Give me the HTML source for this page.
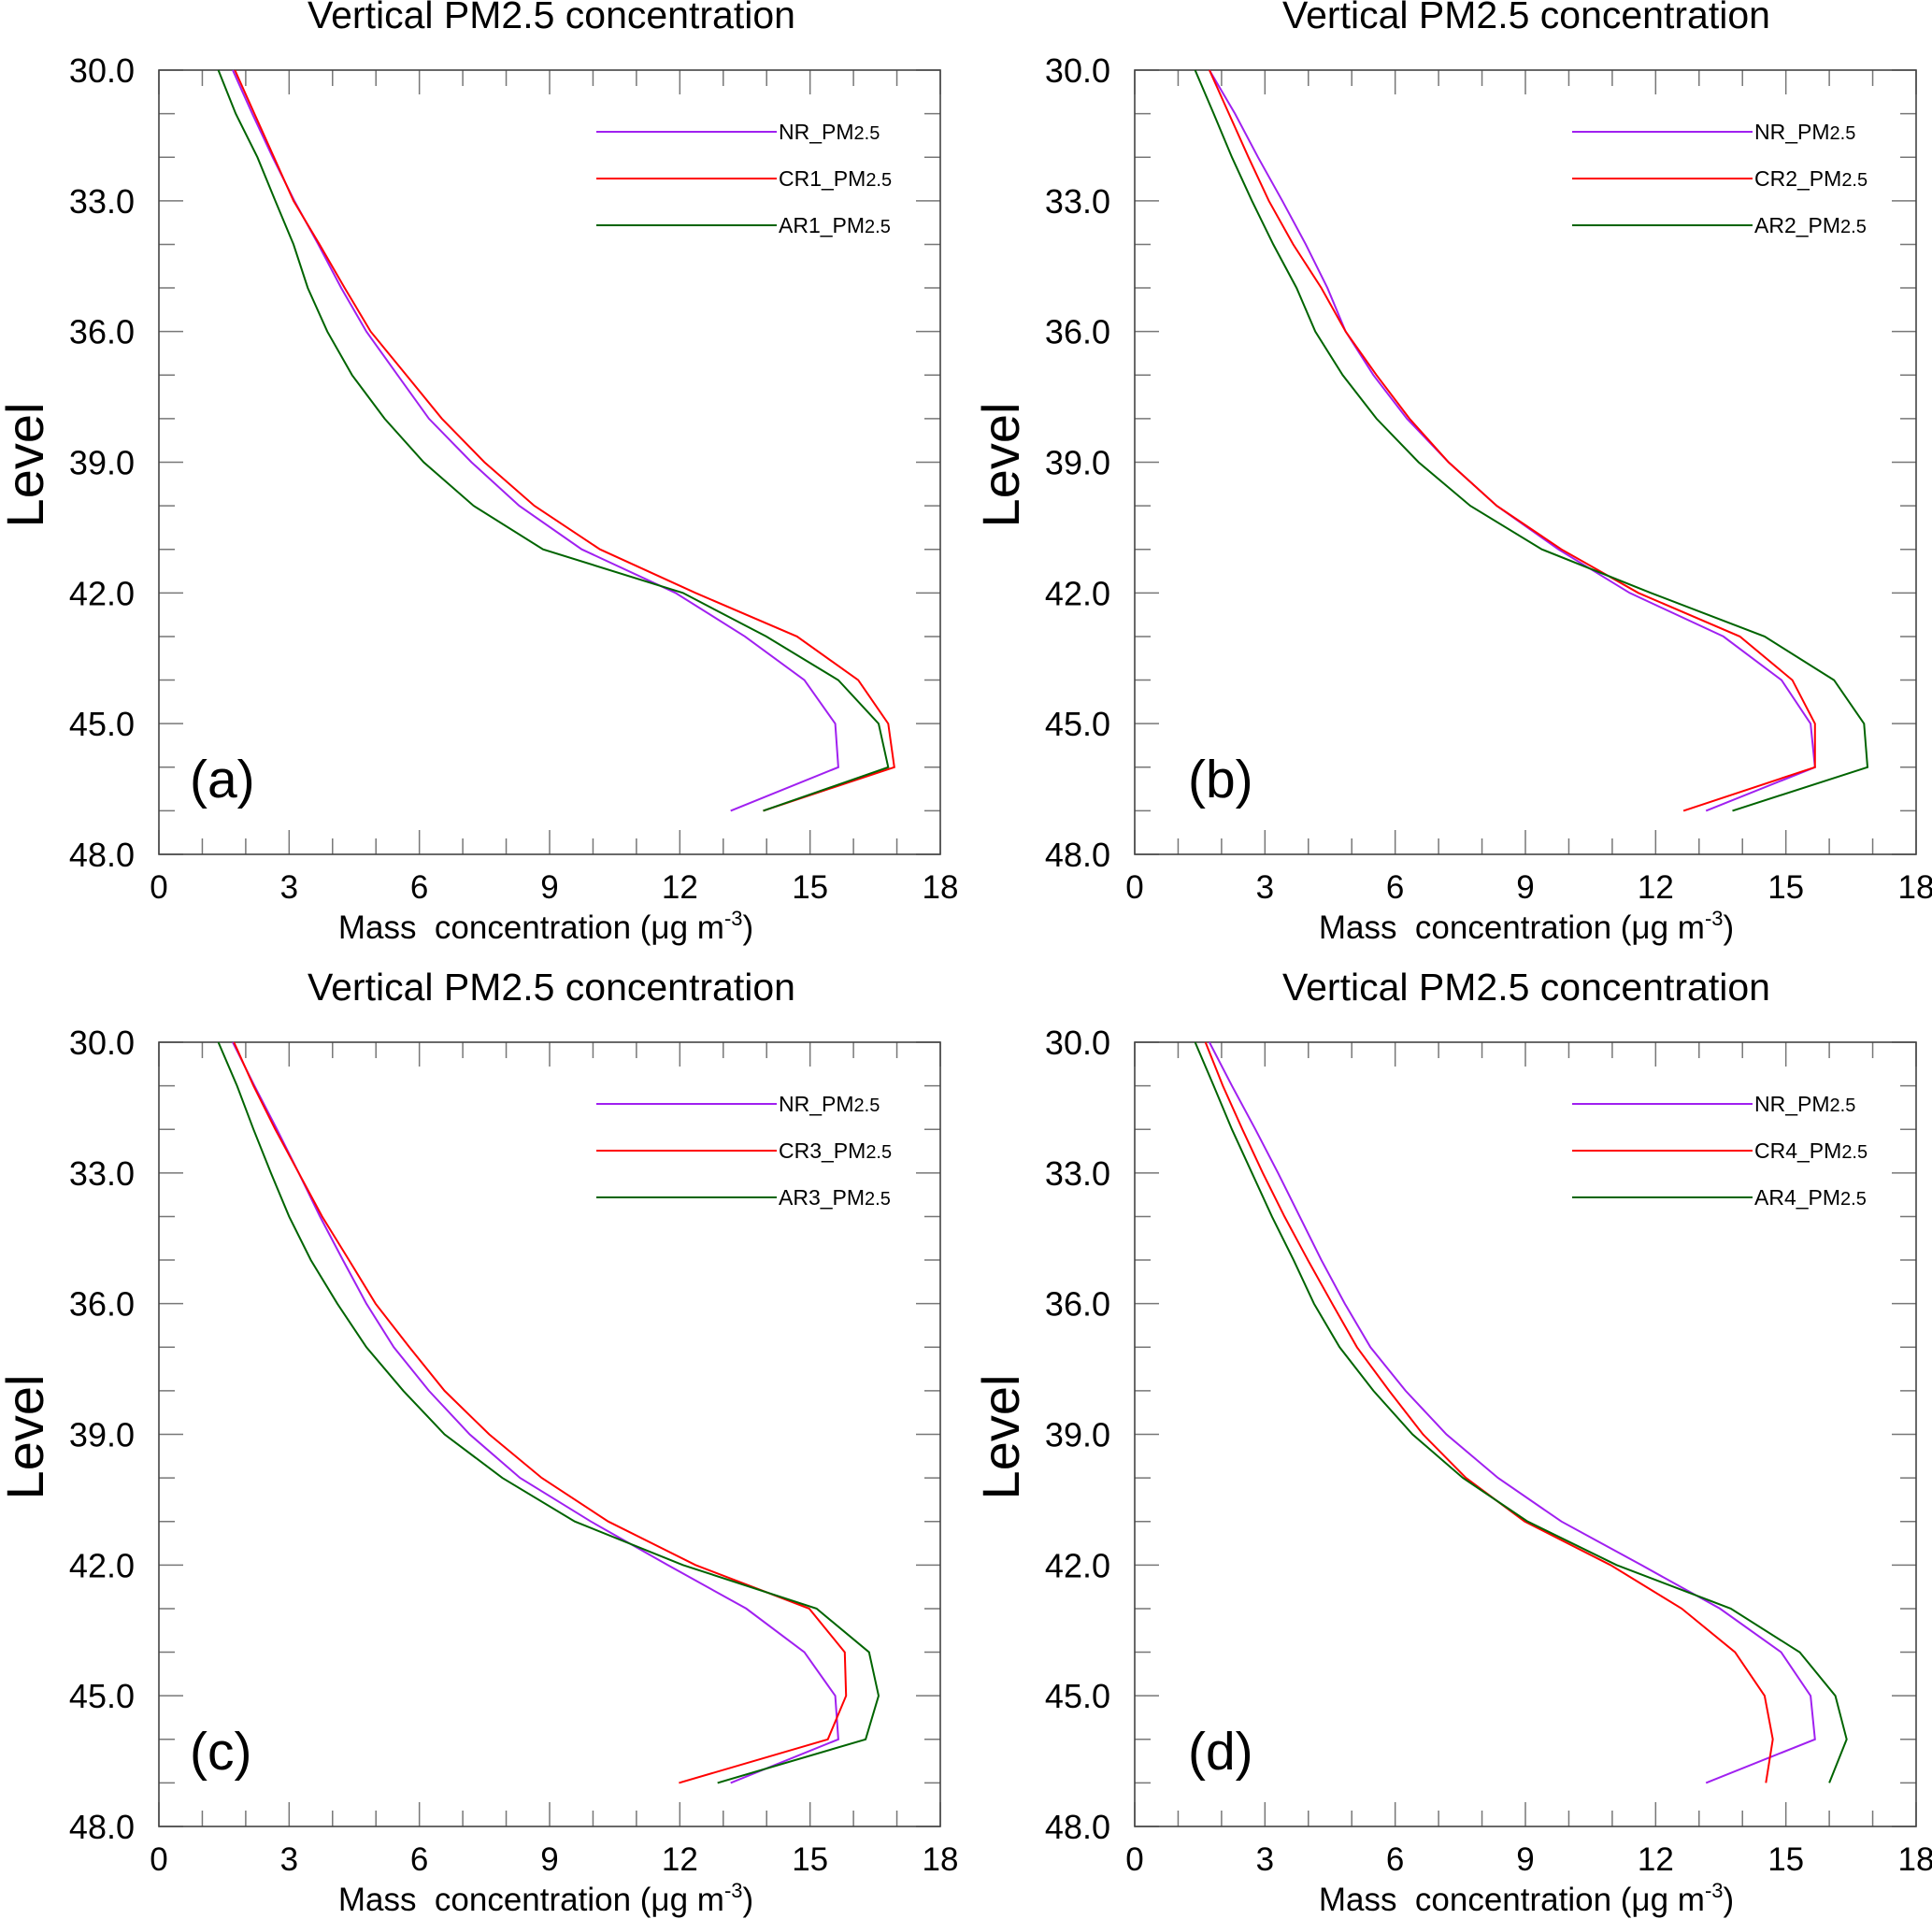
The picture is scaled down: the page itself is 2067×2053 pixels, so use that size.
<!DOCTYPE html>
<html><head><meta charset="utf-8"><style>
html,body{margin:0;padding:0;background:#fff;}
svg{display:block;font-family:"Liberation Sans",sans-serif;}
</style></head><body>
<svg id="fig" width="2067" height="2053" viewBox="0 0 2067 2053" xmlns="http://www.w3.org/2000/svg"></svg>
<script>
const levels = [30,31,32,33,34,35,36,37,38,39,40,41,42,43,44,45,46,47];
const xTicks = [0,3,6,9,12,15,18];
const yTicks = [30,33,36,39,42,45,48];
const yTickLabels = ["30.0","33.0","36.0","39.0","42.0","45.0","48.0"];
const panelLabels = ["(a)","(b)","(c)","(d)"];
const legendNames = [["NR_","CR1_","AR1_"],["NR_","CR2_","AR2_"],["NR_","CR3_","AR3_"],["NR_","CR4_","AR4_"]];

const nrA = [1.7,2.15,2.62,3.12,3.67,4.2,4.78,5.5,6.22,7.2,8.3,9.74,11.9,13.5,14.87,15.58,15.65,13.17];
const crA = [1.75,2.2,2.65,3.1,3.7,4.28,4.88,5.7,6.52,7.5,8.65,10.16,12.36,14.7,16.11,16.8,16.94,13.92];
const arA = [1.37,1.77,2.27,2.68,3.1,3.43,3.88,4.45,5.2,6.1,7.25,8.85,12.07,13.99,15.65,16.58,16.8,13.92];

const nrB = [1.72,2.31,2.84,3.4,3.94,4.44,4.86,5.5,6.27,7.23,8.34,9.76,11.4,13.56,14.9,15.57,15.67,13.16];
const crB = [1.72,2.17,2.62,3.09,3.65,4.3,4.86,5.57,6.33,7.23,8.34,9.83,11.6,13.94,15.15,15.67,15.67,12.64];
const arB = [1.39,1.82,2.24,2.7,3.19,3.73,4.16,4.79,5.57,6.54,7.73,9.38,11.89,14.51,16.11,16.8,16.88,13.77];

const nrC = [1.7,2.2,2.72,3.22,3.71,4.24,4.78,5.41,6.22,7.16,8.32,9.95,11.72,13.53,14.87,15.58,15.65,13.17];
const crC = [1.73,2.18,2.68,3.22,3.76,4.38,4.99,5.77,6.58,7.61,8.82,10.35,12.36,14.98,15.8,15.83,15.41,11.98];
const arC = [1.37,1.8,2.18,2.58,3.0,3.5,4.11,4.78,5.63,6.58,7.91,9.58,12.07,15.15,16.36,16.58,16.28,12.87];

const nrD = [1.72,2.24,2.78,3.3,3.8,4.3,4.84,5.43,6.24,7.18,8.37,9.83,11.67,13.48,14.89,15.57,15.67,13.16];
const crD = [1.63,2.03,2.48,2.95,3.45,3.99,4.55,5.12,5.86,6.64,7.63,8.98,10.96,12.6,13.83,14.51,14.7,14.54];
const arD = [1.39,1.82,2.24,2.7,3.16,3.66,4.13,4.72,5.5,6.4,7.56,9.05,11.1,13.73,15.32,16.14,16.4,16.0];

const panelSeries = [[nrA,crA,arA],[nrB,crB,arB],[nrC,crC,arC],[nrD,crD,arD]];
const colors = ["#a020f0","#ff0000","#006400"];

const NS = "http://www.w3.org/2000/svg";
const svg = document.getElementById("fig");
function mk(tag, attrs, parent){const e=document.createElementNS(NS,tag);for(const k in attrs)e.setAttribute(k,attrs[k]);(parent||svg).appendChild(e);return e;}

const PW = 836, PH = 839;
const origins = [[170,75],[1214,75],[170,1115],[1214,1115]];
const xScale = v => v/18*PW;
const yScale = v => (v-30)/18*PH;

panelSeries.forEach((series, p) => {
  const [ox, oy] = origins[p];
  const right = p % 2 === 1;
  const g = mk("g", {transform:`translate(${ox},${oy})`});
  
  

  const title = mk("text", {x: PW/2 + (right?1:2), y: -45, "font-size": 41, "text-anchor":"middle", fill:"#000"}, g);
  title.textContent = "Vertical PM2.5 concentration";
  
  

  for (let v=0; v<=18; v++) {
    const major = v%3===0; const len = major?26:17; const x = xScale(v);
    const t1 = mk("line",{x1:x,y1:PH,x2:x,y2:PH-len,stroke:"#777","stroke-width":1.5},g);
     
    const t2 = mk("line",{x1:x,y1:0,x2:x,y2:len,stroke:"#777","stroke-width":1.5},g);
     
  }
  for (let v=30; v<=48; v++) {
    const major = v%3===0; const len = major?26:17; const y = yScale(v);
    const t1 = mk("line",{x1:0,y1:y,x2:len,y2:y,stroke:"#777","stroke-width":1.5},g);
     
    const t2 = mk("line",{x1:PW,y1:y,x2:PW-len,y2:y,stroke:"#777","stroke-width":1.5},g);
     
  }
  const frame = mk("rect",{x:0,y:0,width:PW,height:PH,fill:"none",stroke:"#444","stroke-width":1.6},g);
   

  xTicks.forEach(v => {
    const t = mk("text",{x:xScale(v),y:PH+47,"font-size":35,"text-anchor":"middle",fill:"#000"},g);
    t.textContent = String(v);
     
  });
  yTicks.forEach((v,i) => {
    const t = mk("text",{x:-26,y:yScale(v)+13,"font-size":36,"text-anchor":"end",fill:"#000"},g);
    t.textContent = yTickLabels[i];
     
  });

  const xt = mk("text",{x:PW/2-4+(right?5:0),y:PH+90,"font-size":35,"text-anchor":"middle",fill:"#000"},g);
  xt.innerHTML = 'Mass&#160; concentration (&#956;g m<tspan dy="-14" font-size="22">-3</tspan><tspan dy="14">)</tspan>';
   

  const yt = mk("text",{x:0,y:0,"font-size":56,"text-anchor":"middle",fill:"#000",transform:`translate(-124,${PH/2+3}) rotate(-90)`},g);
  yt.textContent = "Level";
   

  const pl = mk("text",{x:right?57:33,y:778,"font-size":57,fill:"#000"},g);
  pl.textContent = panelLabels[p];
   

  series.forEach((vals, s) => {
    const pts = vals.map((v,i) => xScale(v).toFixed(1)+","+yScale(levels[i]).toFixed(1)).join(" ");
    const line = mk("polyline",{points:pts,fill:"none",stroke:colors[s],"stroke-width":2,"stroke-linejoin":"miter"},g);
    
    

    const ly = 66 + s*50;
    const ll = mk("line",{x1:468,y1:ly,x2:661,y2:ly,stroke:colors[s],"stroke-width":2},g);
     
    const lt = mk("text",{x:663,y:ly+8,"font-size":23,fill:"#000"},g);
    lt.innerHTML = legendNames[p][s] + 'PM<tspan font-size="20">2.5</tspan>';
     
  });
});
</script>
</body></html>
